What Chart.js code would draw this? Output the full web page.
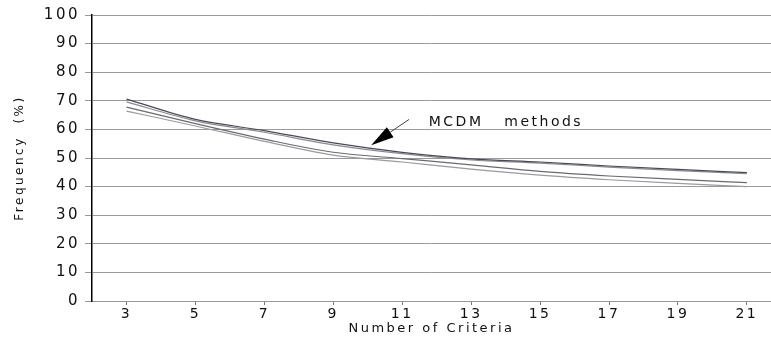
<!DOCTYPE html>
<html>
<head>
<meta charset="utf-8">
<script src="https://cdn.jsdelivr.net/npm/chart.js@4.4.4/dist/chart.umd.min.js"></script>
<style>
    html, body { margin: 0; padding: 0; background: #fff; }
    #wrap { position: relative; width: 771px; height: 339px; }
</style>
</head>
<body>
<div id="wrap"><canvas id="chart"></canvas></div>
<script>
const criteria = [3, 5, 7, 9, 11, 13, 15, 17, 19, 21];
const seriesA = [70.6, 63.5, 59.6, 55.3, 52.0, 49.7, 48.6, 47.2, 46.0, 44.9];
const seriesB = [69.6, 63.0, 59.0, 54.6, 51.5, 49.3, 48.2, 46.8, 45.6, 44.5];
const seriesC = [67.8, 62.0, 56.6, 52.0, 49.8, 47.6, 45.3, 43.7, 42.5, 41.4];
const seriesD = [66.4, 61.2, 55.8, 51.0, 48.6, 46.1, 44.0, 42.4, 41.1, 40.0];
const yTicks = [0, 10, 20, 30, 40, 50, 60, 70, 80, 90, 100];

// annotation, in data units
const noteText = "MCDM   methods";
const noteTextAt = { x: 11.77, y: 62.4 };
const arrowFrom = { x: 11.2, y: 63.5 };
const arrowTo = { x: 10.1, y: 54.5 };

const fontFamily = "'DejaVu Sans', 'Liberation Sans', sans-serif";

function toPoints(values) {
    return values.map((v, i) => ({ x: criteria[i], y: v }));
}

const spacingPlugin = {
    id: "spacing",
    beforeDraw(chart) {
        chart.ctx.letterSpacing = "2.5px";
    }
};

const notePlugin = {
    id: "note",
    afterDatasetsDraw(chart) {
        const { ctx, scales } = chart;
        const x = scales.x, y = scales.y;
        const fx = x.getPixelForValue(arrowFrom.x), fy = y.getPixelForValue(arrowFrom.y);
        const tx = x.getPixelForValue(arrowTo.x), ty = y.getPixelForValue(arrowTo.y);
        const ang = Math.atan2(ty - fy, tx - fx);
        const headLen = 23, headHalf = 6;
        const bx = tx - headLen * Math.cos(ang), by = ty - headLen * Math.sin(ang);

        ctx.save();
        ctx.strokeStyle = "#444";
        ctx.lineWidth = 1;
        ctx.beginPath();
        ctx.moveTo(fx, fy);
        ctx.lineTo(bx, by);
        ctx.stroke();

        ctx.fillStyle = "#000";
        ctx.beginPath();
        ctx.moveTo(tx, ty);
        ctx.lineTo(bx + headHalf * Math.sin(ang), by - headHalf * Math.cos(ang));
        ctx.lineTo(bx - headHalf * Math.sin(ang), by + headHalf * Math.cos(ang));
        ctx.closePath();
        ctx.fill();

        ctx.font = `14px ${fontFamily}`;
        ctx.letterSpacing = "2.5px";
        ctx.fillStyle = "#111";
        ctx.textAlign = "left";
        ctx.textBaseline = "middle";
        ctx.fillText(noteText, x.getPixelForValue(noteTextAt.x), y.getPixelForValue(noteTextAt.y));
        ctx.restore();
    }
};

function lineSet(label, values, color) {
    return {
        label,
        data: toPoints(values),
        borderColor: color,
        backgroundColor: color,
        borderWidth: 1.2,
        cubicInterpolationMode: "monotone",
        pointRadius: 0,
        fill: false
    };
}

new Chart(document.getElementById("chart"), {
    type: "line",
    data: {
        datasets: [
            lineSet("A", seriesA, "#4a4a55"),
            lineSet("B", seriesB, "#8a8a92"),
            lineSet("C", seriesC, "#6a6a70"),
            lineSet("D", seriesD, "#9a9aa0")
        ]
    },
    options: {
        responsive: true,
        maintainAspectRatio: false,
        animation: false,
        layout: { padding: { top: 15, right: 0, left: 0, bottom: 0 } },
        plugins: {
            legend: { display: false },
            tooltip: { enabled: false }
        },
        scales: {
            x: {
                type: "linear",
                min: 2,
                max: 21.7,
                afterBuildTicks(scale) {
                    scale.ticks = criteria.map(v => ({ value: v }));
                },
                afterFit(scale) {
                    scale.height = 38;
                },
                border: { color: "#999", width: 1 },
                grid: {
                    drawOnChartArea: false,
                    color: "#777",
                    tickLength: 4
                },
                ticks: {
                    color: "#111",
                    padding: 1,
                    maxRotation: 0,
                    autoSkip: false,
                    font: { family: fontFamily, size: 14 }
                },
                title: {
                    display: true,
                    text: "Number of Criteria",
                    color: "#111",
                    padding: { top: 0, bottom: 3 },
                    font: { family: fontFamily, size: 13 }
                }
            },
            y: {
                min: 0,
                max: 100,
                afterBuildTicks(scale) {
                    scale.ticks = yTicks.map(v => ({ value: v }));
                },
                afterFit(scale) {
                    scale.width = 92;
                },
                border: { color: "#000", width: 1.5 },
                grid: {
                    color: "#9a9a9a",
                    lineWidth: 1,
                    tickLength: 7
                },
                ticks: {
                    color: "#111",
                    padding: 5,
                    font: { family: fontFamily, size: 15 }
                },
                title: {
                    display: true,
                    text: "Frequency  (%)",
                    color: "#111",
                    padding: { top: 13, bottom: 0 },
                    font: { family: fontFamily, size: 12 }
                }
            }
        }
    },
    plugins: [spacingPlugin, notePlugin]
});
</script>
</body>
</html>
